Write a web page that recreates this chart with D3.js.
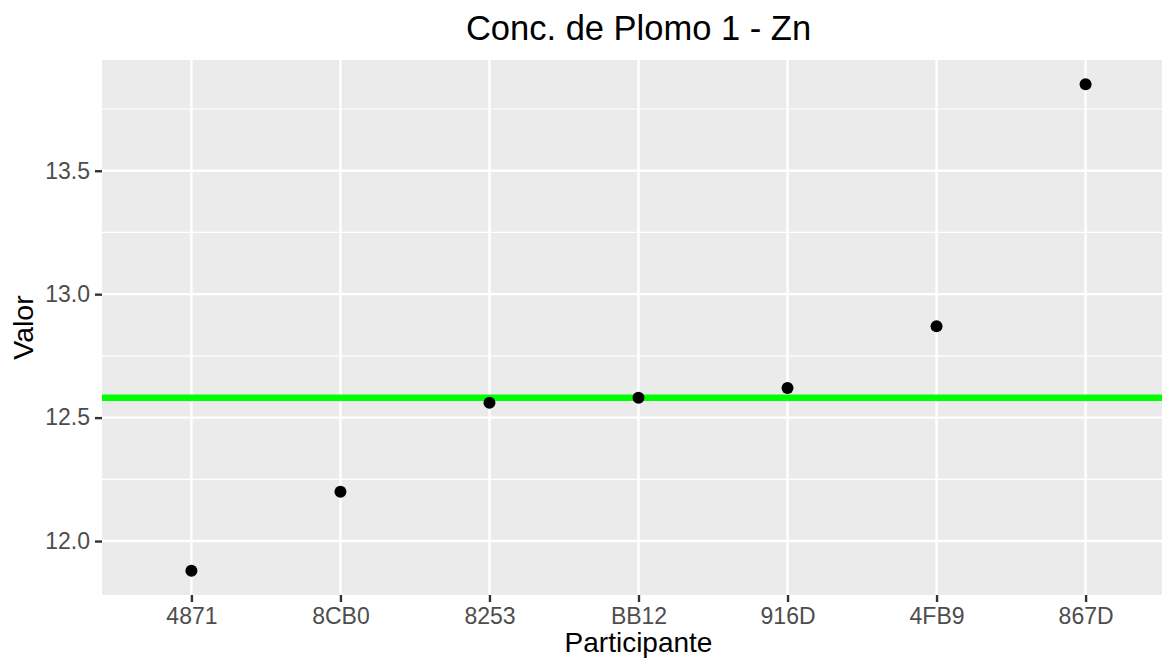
<!DOCTYPE html>
<html><head><meta charset="utf-8">
<script src="https://cdn.jsdelivr.net/npm/d3@7"></script>
<style>body{margin:0;background:#fff}svg{display:block}text{font-family:"Liberation Sans",Arial,sans-serif}</style>
</head><body><svg id="c" width="1162" height="659"></svg>
<script>
const participants = ["4871","8CB0","8253","BB12","916D","4FB9","867D"];
const values = [11.88, 12.20, 12.56, 12.58, 12.62, 12.87, 13.85];
const refValue = 12.58;
const yTicks = [12.0, 12.5, 13.0, 13.5];
const yMinor = [12.25, 12.75, 13.25, 13.75];
const title = "Conc. de Plomo 1 - Zn";
const xTitle = "Participante";
const yTitle = "Valor";

const svg = d3.select("#c");
const L = 102, T = 60, R = 1175, B = 595;
const x = d3.scalePoint().domain(participants).range([L, R]).padding(0.6);
const ext = d3.extent(values);
const pad = (ext[1]-ext[0])*0.05;
const y = d3.scaleLinear().domain([ext[0]-pad, ext[1]+pad]).range([B, T]);

svg.append("rect").attr("x",L).attr("y",T).attr("width",R-L).attr("height",B-T).attr("fill","#EBEBEB");
const g = svg.append("g");
g.selectAll(".ymin").data(yMinor).join("line").attr("x1",L).attr("x2",R)
  .attr("y1",d=>y(d)).attr("y2",d=>y(d)).attr("stroke","#fff").attr("stroke-width",1.2);
g.selectAll(".ymaj").data(yTicks).join("line").attr("x1",L).attr("x2",R)
  .attr("y1",d=>y(d)).attr("y2",d=>y(d)).attr("stroke","#fff").attr("stroke-width",2.4);
g.selectAll(".xmaj").data(participants).join("line").attr("y1",T).attr("y2",B)
  .attr("x1",d=>x(d)).attr("x2",d=>x(d)).attr("stroke","#fff").attr("stroke-width",2.4);

svg.append("line").attr("x1",L).attr("x2",R).attr("y1",y(refValue)).attr("y2",y(refValue))
  .attr("stroke","#00FF00").attr("stroke-width",6.5);

svg.selectAll(".pt").data(participants).join("circle")
  .attr("cx",d=>x(d)).attr("cy",(d,i)=>y(values[i])).attr("r",6).attr("fill","#000");

// y axis
const ya = svg.append("g").attr("transform",`translate(${L},0)`)
  .call(d3.axisLeft(y).tickValues(yTicks).tickFormat(d3.format(".1f")).tickSize(7).tickPadding(5));
ya.select(".domain").remove();
ya.selectAll(".tick line").attr("stroke","#333").attr("stroke-width",2.4);
ya.selectAll(".tick text").attr("fill","#4D4D4D").attr("font-size",23).attr("font-family","Liberation Sans, Arial, sans-serif");

const xa = svg.append("g").attr("transform",`translate(0,${B})`)
  .call(d3.axisBottom(x).tickSize(7).tickPadding(6));
xa.select(".domain").remove();
xa.selectAll(".tick line").attr("stroke","#333").attr("stroke-width",2.4);
xa.selectAll(".tick text").attr("fill","#4D4D4D").attr("font-size",23).attr("font-family","Liberation Sans, Arial, sans-serif");

svg.append("text").attr("x",(L+R)/2).attr("y",39.5).attr("text-anchor","middle")
  .attr("font-size",34.5).attr("fill","#000").text(title);
svg.append("text").attr("x",(L+R)/2).attr("y",652).attr("text-anchor","middle")
  .attr("font-size",28).attr("fill","#000").text(xTitle);
svg.append("text").attr("transform",`translate(33,${(T+B)/2}) rotate(-90)`).attr("text-anchor","middle")
  .attr("font-size",28.5).attr("fill","#000").text(yTitle);
</script></body></html>
